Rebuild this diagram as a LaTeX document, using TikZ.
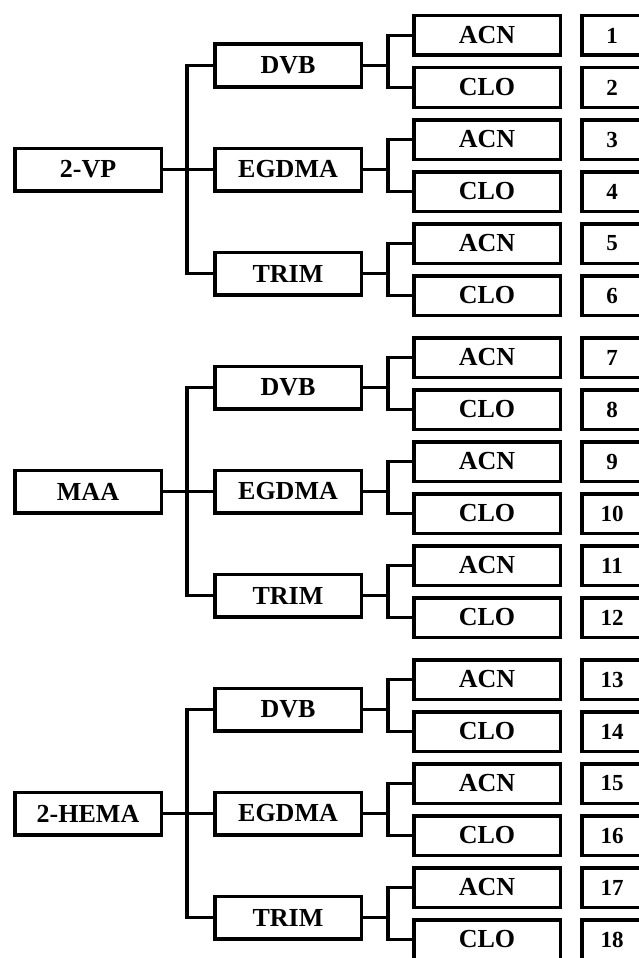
\documentclass[tikz,border=0pt]{standalone}
\usepackage{fontspec}
\setmainfont{Liberation Serif}
\begin{document}
\begin{tikzpicture}[
	% Kiểu dáng cho các hộp và đường nối
	hop/.style={draw, line width=3.5pt, minimum width=146.5pt, minimum height=42.5pt, inner sep=0pt, font=\fontsize{26}{30}\selectfont\bfseries}, % hộp gốc và hộp giữa
	la/.style={hop, minimum height=39.5pt}, % hộp ACN / CLO
	so/.style={draw, line width=3.5pt, minimum width=60pt, minimum height=39.5pt, inner sep=0pt, font=\fontsize{23}{27}\selectfont\bfseries}, % hộp số thứ tự
	noi/.style={line width=3.5pt}, % đường nối
	x=1pt,y=-1pt,line join=miter]
	\useasboundingbox (0,0) rectangle (638,958);

	% Ba nhóm: gốc -> chất liên kết -> dung môi -> số
	\foreach \goc [count=\g from 0] in {2-VP,MAA,2-HEMA}{
		\pgfmathsetmacro\G{322*\g}
		\node[hop] (R\g) at (88, 169.5+\G) {\goc};
		\foreach \chat [count=\m from 0] in {DVB,EGDMA,TRIM}{
			\node[hop] (M\g\m) at (288, 65.5+104*\m+\G) {\chat};
			\foreach \dmoi [count=\d from 0] in {ACN,CLO}{
				\pgfmathtruncatemacro\stt{6*\g+2*\m+\d+1}
				\node[la] (L\g\m\d) at (487, 35.5+104*\m+52*\d+\G) {\dmoi};
				\node[so] (S\g\m\d) at (612, 35.5+104*\m+52*\d+\G) {\stt};
			}
			% Nối hộp giữa với hai hộp dung môi
			\draw[noi] (M\g\m.east) -- ++(25,0) coordinate (b\g\m) |- (L\g\m0.west)
				(b\g\m) |- (L\g\m1.west);
		}
		% Nối hộp gốc với ba hộp giữa
		\draw[noi] (R\g.east) -- ++(24,0) coordinate (t\g) |- (M\g0.west)
			(t\g) |- (M\g1.west) (t\g) |- (M\g2.west);
	}
\end{tikzpicture}
\end{document}
